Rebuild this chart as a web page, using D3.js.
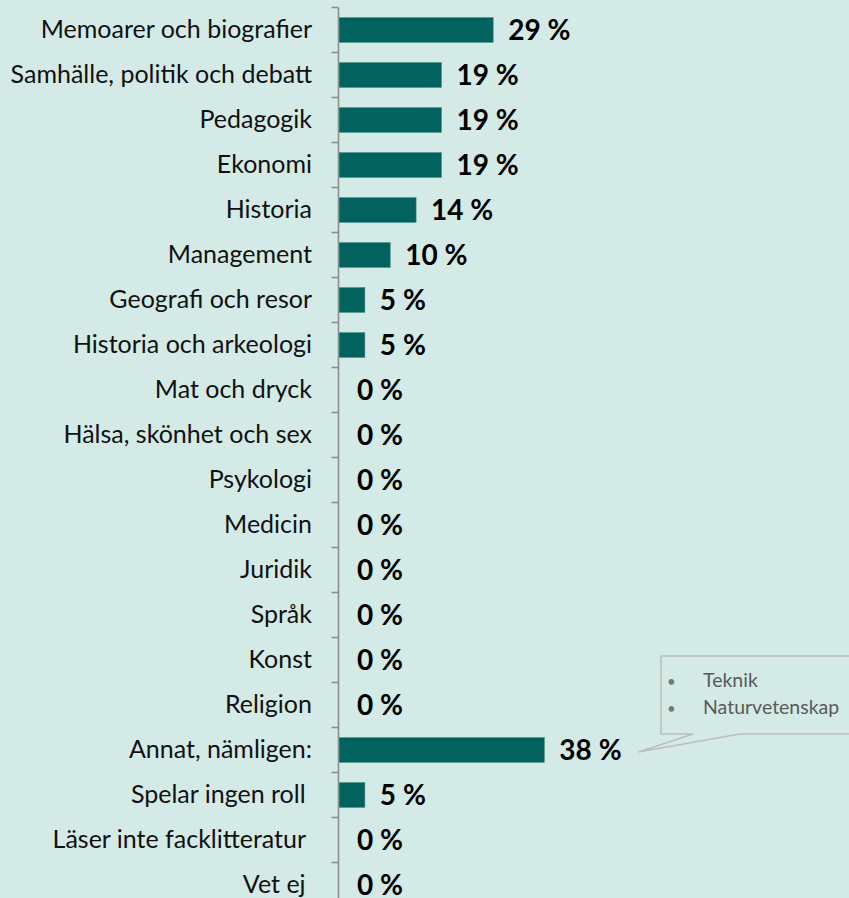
<!DOCTYPE html>
<html>
<head>
<meta charset="utf-8">
<script src="https://cdn.jsdelivr.net/npm/d3@7/dist/d3.min.js"></script>
<style>
  html, body { margin: 0; padding: 0; background: #d3eae6; }
  svg { display: block; }
  text { font-family: Lato, "Open Sans", sans-serif; white-space: pre; }
</style>
</head>
<body>
<svg id="chart" width="849" height="898"></svg>
<script>
// ---- data ----
const categories = [
  "Memoarer och biografier",
  "Samhälle, politik och debatt",
  "Pedagogik",
  "Ekonomi",
  "Historia",
  "Management",
  "Geografi och resor",
  "Historia och arkeologi",
  "Mat och dryck",
  "Hälsa, skönhet och sex",
  "Psykologi",
  "Medicin",
  "Juridik",
  "Språk",
  "Konst",
  "Religion",
  "Annat, nämligen:",
  "Spelar ingen roll ",
  "Läser inte facklitteratur ",
  "Vet ej "
];
const values = [28.6, 19.0, 19.0, 19.0, 14.3, 9.5, 4.8, 4.8, 0, 0, 0, 0, 0, 0, 0, 0, 38.1, 4.8, 0, 0];
const valueLabels = ["29 %", "19 %", "19 %", "19 %", "14 %", "10 %", "5 %", "5 %", "0 %", "0 %", "0 %", "0 %", "0 %", "0 %", "0 %", "0 %", "38 %", "5 %", "0 %", "0 %"];
const calloutItems = ["Teknik", "Naturvetenskap"];

// ---- layout ----
const svg = d3.select("#chart");
const axisX = 338.5;
const x = d3.scaleLinear().domain([0, 100]).range([339, 339 + 539]);
const pad = 0.45;
const y = d3.scaleBand().domain(categories).range([7.5, 907.5]).paddingInner(pad).paddingOuter(pad / 2);
const step = y.step();

const data = categories.map((c, i) => ({ cat: c, v: values[i], label: valueLabels[i] }));

// bars
svg.append("g").selectAll("rect").data(data.filter(d => d.v > 0)).join("rect")
  .attr("x", x(0))
  .attr("y", d => y(d.cat))
  .attr("width", d => x(d.v) - x(0))
  .attr("height", y.bandwidth())
  .attr("fill", "#02625d")
  .attr("stroke", "#3f8a84")
  .attr("stroke-width", 0.6);

// axis line + ticks at band boundaries
const g = svg.append("g");
const boundaries = categories.map(c => y(c) - step * pad / 2).concat([y(categories[categories.length - 1]) + y.bandwidth() + step * pad / 2]);
g.append("line")
  .attr("x1", axisX).attr("x2", axisX)
  .attr("y1", boundaries[0]).attr("y2", boundaries[boundaries.length - 1])
  .attr("stroke", "#8e8e8e").attr("stroke-width", 1.6);
g.selectAll("line.tick").data(boundaries).join("line")
  .attr("class", "tick")
  .attr("x1", axisX - 7).attr("x2", axisX)
  .attr("y1", d => d).attr("y2", d => d)
  .attr("stroke", "#8e8e8e").attr("stroke-width", 1.6);

// category labels
svg.append("g").selectAll("text").data(data).join("text")
  .attr("x", 312)
  .attr("y", d => y(d.cat) + y.bandwidth() / 2 + 8.4)
  .attr("text-anchor", "end")
  .attr("font-size", 25)
  .attr("fill", "#111")
  .text(d => d.cat);

// value labels
svg.append("g").selectAll("text").data(data).join("text")
  .attr("x", d => x(d.v) + (d.v > 0 ? 15 : 18))
  .attr("y", d => y(d.cat) + y.bandwidth() / 2 + 9.5)
  .attr("font-size", 28)
  .attr("font-weight", "bold")
  .attr("fill", "#000")
  .text(d => d.label);

// callout for "Annat, nämligen:"
const annat = data[16];
const tipX = x(annat.v) + 94, tipY = y(annat.cat) + y.bandwidth() / 2 + 2;
const bx0 = 661, by0 = 656, by1 = 734, bx1 = 852;
svg.append("path")
  .attr("d", `M${bx0},${by0} L${bx1},${by0} L${bx1},${by1} L740,${by1} L${tipX},${tipY} L693,${by1} L${bx0},${by1} Z`)
  .attr("fill", "none")
  .attr("stroke", "#bdbdbd")
  .attr("stroke-width", 1.6);
const cg = svg.append("g");
calloutItems.forEach((t, i) => {
  cg.append("text").attr("x", 667).attr("y", 687 + i * 26.5)
    .attr("font-size", 15).attr("fill", "#777").text("•");
  cg.append("text").attr("x", 703).attr("y", 687 + i * 26.5)
    .attr("font-size", 19.5).attr("fill", "#5a5a5a").text(t);
});
</script>
</body>
</html>
